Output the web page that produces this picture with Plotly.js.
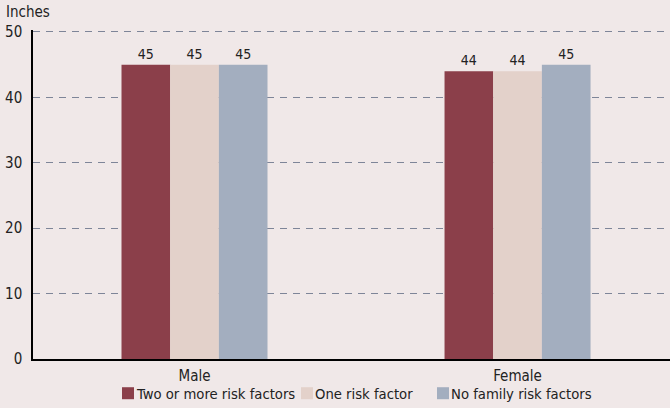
<!DOCTYPE html>
<html><head><meta charset="utf-8">
<script src="https://cdn.plot.ly/plotly-3.0.1.min.js"></script>
<style>body{margin:0;background:#F0E8E8}</style>
</head><body><div id="chart" style="width:670px;height:408px"></div>
<script>
const categories = ["Male", "Female"];
const seriesNames = ["Two or more risk factors", "One risk factor", "No family risk factors"];
const twoOrMore = [45, 44];
const oneRisk = [45, 44];
const noRisk = [45, 45];
const colors = ["#8B3F4A", "#E3D1CA", "#A3AEBF"];
const values = [twoOrMore, oneRisk, noRisk];
const fontFam = "'DejaVu Sans Condensed', 'Liberation Sans Narrow', sans-serif";
// legend item left edges (paper fraction of plot width)
const legendX = [0.1397, 0.4207, 0.6342];
const legendY = -0.104;
const traces = values.map((v, i) => ({
  type: "bar", x: categories, y: v, name: seriesNames[i],
  marker: {color: colors[i]}, text: v.map(String), textposition: "outside",
  textfont: {color: "#222", size: 14, family: fontFam}, cliponaxis: false,
  hoverinfo: "none", showlegend: false
}));
const shapes = seriesNames.map((n, i) => ({
  type: "rect", xref: "paper", yref: "paper", xsizemode: "pixel", ysizemode: "pixel",
  xanchor: legendX[i], yanchor: legendY, x0: 0, x1: 12, y0: -6, y1: 6,
  fillcolor: colors[i], line: {width: 0}
}));
const legendAnn = seriesNames.map((n, i) => ({
  text: n, xref: "paper", yref: "paper", x: legendX[i], xshift: 12, y: legendY,
  xanchor: "left", yanchor: "middle", showarrow: false, font: {size: 14.7, family: fontFam, color: "#222"}
}));
const layout = {
  width: 670, height: 408,
  margin: {l: 33, r: 0, t: 30, b: 49},
  paper_bgcolor: "#F0E8E8", plot_bgcolor: "#F0E8E8",
  barmode: "group", bargap: 0.548, bargroupgap: 0,
  font: {family: fontFam, size: 15, color: "#222"},
  showlegend: false,
  xaxis: {range: [-0.5, 1.472], showline: true, linecolor: "#000", linewidth: 1.5,
    ticks: "outside", ticklen: 2, tickcolor: "rgba(0,0,0,0)", tickfont: {size: 15}},
  yaxis: {range: [0, 50.3], tickvals: [0, 10, 20, 30, 40, 50], showline: true, linecolor: "#000", linewidth: 1.5,
    showgrid: true, gridcolor: "#7E8598", griddash: "7px,6px", gridwidth: 1.3,
    zeroline: false, ticks: "", tickfont: {size: 15}, ticklabelstandoff: 6},
  shapes: shapes,
  annotations: [{text: "Inches", xref: "paper", yref: "paper", x: -0.046, y: 1.021,
    xanchor: "left", yanchor: "bottom", showarrow: false, font: {size: 15, family: fontFam}}]
    .concat(legendAnn)
};
Plotly.newPlot("chart", traces, layout, {displayModeBar: false});
</script></body></html>
